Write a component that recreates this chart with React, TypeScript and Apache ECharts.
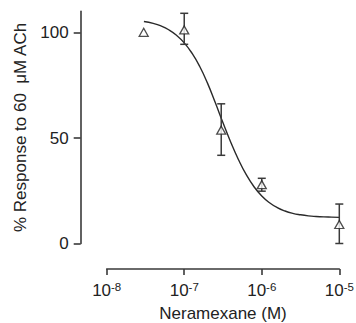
import React, { useEffect, useRef } from "react";
import * as echarts from "echarts";

// Measured points (concentration in M, % response, error bar ends)
const concentrations = [3e-8, 1e-7, 3e-7, 1e-6, 1e-5];
const responses = [100.1, 101.2, 53.7, 27.9, 9.0];
const errHigh = [100.1, 109.1, 66.2, 30.9, 18.7];
const errLow = [100.1, 94.4, 41.8, 24.8, 0.0];

// Fitted curve (log10 concentration, % response)
const curveLogX = [-7.52, -7.4, -7.3, -7.2, -7.1, -7.0, -6.9, -6.8, -6.7, -6.6, -6.5, -6.4, -6.3, -6.2, -6.1, -6.0, -5.9, -5.8, -5.7, -5.6, -5.5, -5.4, -5.3, -5.2, -5.1, -5.0];
const curveY = [105.2, 104.3, 103.1, 101.3, 98.7, 95.1, 90.2, 83.9, 76.0, 66.8, 57.2, 48.0, 39.7, 32.6, 26.9, 22.5, 19.3, 17.0, 15.4, 14.3, 13.6, 13.1, 12.8, 12.6, 12.5, 12.4];

const yTicks = [0, 50, 100];

const FONT = "Liberation Sans, Arial, sans-serif";
const AXIS_COLOR = "#3a3a3a";

export default function App() {
  const ref = useRef<HTMLDivElement>(null);
  useEffect(() => {
    if (!ref.current) return;
    const chart = echarts.init(ref.current, null, { renderer: "svg" });
    const curveData = curveLogX.map((lx, i) => [Math.pow(10, lx), curveY[i]]);
    const pointData = concentrations.map((c, i) => [c, responses[i]]);
    const errData = concentrations
      .map((c, i) => [c, errLow[i], errHigh[i]])
      .filter((d) => d[2] - d[1] > 0.5);

    chart.setOption({
      animation: false,
      backgroundColor: "#ffffff",
      textStyle: { fontFamily: FONT },
      grid: { left: 106.7, right: 16.7, top: 11.4, bottom: 79.5, outerBoundsMode: "none", containLabel: false },
      xAxis: {
        type: "log",
        logBase: 10,
        min: 1e-8,
        max: 1e-5,
        offset: 25.5,
        name: "Neramexane (M)",
        nameLocation: "middle",
        nameGap: 35,
        nameTextStyle: { fontSize: 17, lineHeight: 18, color: "#222", fontFamily: FONT },
        axisLine: { show: true, onZero: false, lineStyle: { color: AXIS_COLOR, width: 1.6 } },
        axisTick: { show: true, length: 6, lineStyle: { color: AXIS_COLOR, width: 1.6 } },
        minorTick: { show: false },
        splitLine: { show: false },
        axisLabel: {
          margin: 12,
          formatter: (v: number) => `{b|10}{s|${Math.round(Math.log10(v))}}`,
          rich: {
            b: { fontSize: 17, color: "#222", fontFamily: FONT },
            s: { fontSize: 11.5, color: "#222", fontFamily: FONT, verticalAlign: "bottom", padding: [0, 0, 7, 0] },
          },
        },
      },
      yAxis: {
        type: "value",
        min: 0,
        max: 110,
        offset: 26,
        name: "% Response to 60  \u03bcM ACh",
        nameLocation: "middle",
        nameGap: 40,
        nameTextStyle: { fontSize: 17, color: "#222", fontFamily: FONT },
        axisLine: { show: true, onZero: false, lineStyle: { color: AXIS_COLOR, width: 1.6 } },
        axisTick: { show: true, length: 7, customValues: yTicks, lineStyle: { color: AXIS_COLOR, width: 1.6 } },
        splitLine: { show: false },
        axisLabel: { margin: 12, customValues: yTicks, fontSize: 17, color: "#222", fontFamily: FONT },
      },
      series: [
        {
          type: "line",
          data: curveData,
          smooth: true,
          showSymbol: false,
          symbol: "none",
          lineStyle: { color: "#2a2a2a", width: 1.4 },
          z: 2,
        },
        {
          type: "custom",
          data: errData,
          z: 3,
          renderItem: (params: any, api: any) => {
            const x = api.value(0);
            const lo = api.coord([x, api.value(1)]);
            const hi = api.coord([x, api.value(2)]);
            const cap = 4;
            const style = { stroke: "#3a3a3a", lineWidth: 1.5 };
            return {
              type: "group",
              children: [
                { type: "line", shape: { x1: lo[0], y1: lo[1], x2: hi[0], y2: hi[1] }, style },
                { type: "line", shape: { x1: lo[0] - cap, y1: lo[1], x2: lo[0] + cap, y2: lo[1] }, style },
                { type: "line", shape: { x1: hi[0] - cap, y1: hi[1], x2: hi[0] + cap, y2: hi[1] }, style },
              ],
            };
          },
        },
        {
          type: "scatter",
          data: pointData,
          symbol: "triangle",
          symbolSize: [9, 8],
          itemStyle: { color: "#ffffff", borderColor: "#222", borderWidth: 1.3 },
          z: 4,
        },
      ],
    });
    return () => chart.dispose();
  }, []);
  return <div ref={ref} style={{ position: "fixed", left: 0, top: 0, width: 356, height: 323 }} />;
}
